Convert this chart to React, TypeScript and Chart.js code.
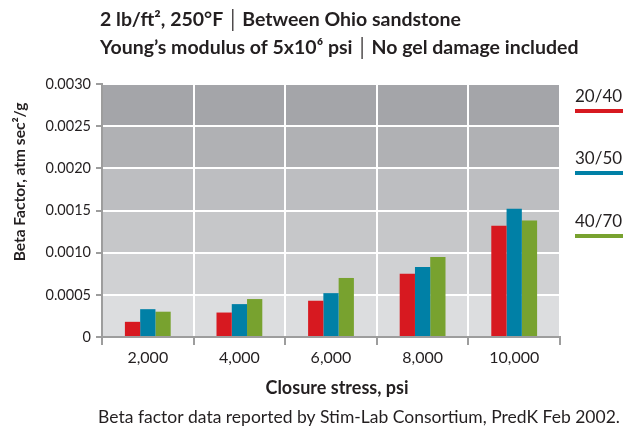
import React, { useEffect, useRef } from 'react';
import { Chart, registerables } from 'chart.js';
Chart.register(...registerables);

const categories = ['2,000', '4,000', '6,000', '8,000', '10,000'];
const series2040 = [0.00018, 0.00029, 0.00043, 0.00075, 0.00132];
const series3050 = [0.00033, 0.00039, 0.00052, 0.00083, 0.00152];
const series4070 = [0.0003, 0.00045, 0.0007, 0.00095, 0.00138];
const seriesNames = ['20/40', '30/50', '40/70'];
const seriesColors = ['#d71920', '#0080a6', '#78a22f'];
const yTicks = [0, 0.0005, 0.001, 0.0015, 0.002, 0.0025, 0.003];
const bandColors = ['#dcdddf', '#d0d1d3', '#c6c7c9', '#bdbec1', '#b0b1b4', '#a4a5a9'];
const titleLine1 = ['2 lb/ft², 250°F', 'Between Ohio sandstone'];
const titleLine2 = ['Young’s modulus of 5x10⁶ psi', 'No gel damage included'];
const xTitle = 'Closure stress, psi';
const yTitle = 'Beta Factor, atm sec²/g';
const footer = 'Beta factor data reported by Stim-Lab Consortium, PredK Feb 2002.';

const FONT = 'Lato';
const TEXT = '#231f20';
const AXIS = '#9d9d9d';

function drawTitleLine(ctx: CanvasRenderingContext2D, parts: string[], x: number, y: number) {
  ctx.textBaseline = 'middle';
  ctx.textAlign = 'left';
  ctx.fillStyle = TEXT;
  ctx.font = `bold 19.5px ${FONT}`;
  ctx.fillText(parts[0], x, y);
  let cx = x + ctx.measureText(parts[0]).width + 9;
  ctx.fillStyle = TEXT;
  ctx.fillRect(cx, y - 11, 1.2, 22);
  cx += 10;
  ctx.fillText(parts[1], cx, y);
}

const decor = {
  id: 'decor',
  beforeDraw(chart: any) {
    const { ctx, chartArea: a, scales } = chart;
    const y = scales.y;
    ctx.save();
    for (let i = 0; i < yTicks.length - 1; i++) {
      const y0 = y.getPixelForValue(yTicks[i]);
      const y1 = y.getPixelForValue(yTicks[i + 1]);
      ctx.fillStyle = bandColors[i];
      ctx.fillRect(a.left, y1, a.right - a.left, y0 - y1);
    }
    ctx.restore();
  },
  afterDraw(chart: any) {
    const { ctx } = chart;
    ctx.save();
    drawTitleLine(ctx, titleLine1, 100, 20);
    drawTitleLine(ctx, titleLine2, 100, 48);

    // legend
    const legendY = [97, 159, 222];
    ctx.font = `17px ${FONT}`;
    ctx.textAlign = 'left';
    ctx.textBaseline = 'middle';
    seriesNames.forEach((n, i) => {
      ctx.fillStyle = TEXT;
      ctx.fillText(n, 575, legendY[i]);
      ctx.fillStyle = seriesColors[i];
      ctx.fillRect(575, legendY[i] + 12, 48, 4);
    });

    // axis titles
    ctx.fillStyle = TEXT;
    ctx.font = `bold 18px ${FONT}`;
    ctx.textAlign = 'center';
    ctx.fillText(xTitle, 337, 388);
    ctx.save();
    ctx.translate(20, 182);
    ctx.rotate(-Math.PI / 2);
    ctx.font = `bold 15.5px ${FONT}`;
    ctx.fillText(yTitle, 0, 0);
    ctx.restore();

    ctx.font = `17.5px ${FONT}`;
    ctx.fillText(footer, 359, 417);
    ctx.restore();
  },
};

export default function App() {
  const ref = useRef<HTMLCanvasElement>(null);
  useEffect(() => {
    const chart = new Chart(ref.current!, {
      type: 'bar',
      data: {
        labels: categories,
        datasets: [series2040, series3050, series4070].map((d, i) => ({
          label: seriesNames[i],
          data: d,
          backgroundColor: seriesColors[i],
          borderWidth: 0,
          categoryPercentage: 0.5,
          barPercentage: 1.0,
        })),
      },
      options: {
        animation: false,
        responsive: false,
        maintainAspectRatio: false,
        layout: { padding: { left: 0, right: 66, top: 84, bottom: 0 } },
        plugins: { legend: { display: false }, title: { display: false }, tooltip: { enabled: false } },
        scales: {
          x: {
            grid: { color: '#ffffff', lineWidth: 2, offset: true, tickColor: AXIS, tickLength: 8 },
            border: { display: true, color: AXIS, width: 2 },
            ticks: { font: { family: FONT, size: 16 }, color: TEXT, padding: 3 },
            afterFit: (s: any) => { s.height = 92; },
          },
          y: {
            min: 0,
            max: 0.003,
            afterBuildTicks: (s: any) => { s.ticks = yTicks.map((v) => ({ value: v })); },
            grid: { color: '#ffffff', lineWidth: 2, tickColor: AXIS, tickLength: 6 },
            border: { display: true, color: AXIS, width: 2 },
            ticks: {
              font: { family: FONT, size: 14.5 },
              color: TEXT,
              padding: 5,
              callback: (v: any) => (v === 0 ? '0' : Number(v).toFixed(4)),
            },
            afterFit: (s: any) => { s.width = 102; },
          },
        },
      },
      plugins: [decor],
    });
    return () => chart.destroy();
  }, []);
  return (
    <div style={{ position: 'fixed', left: 0, top: 0, width: 626, height: 429, background: '#fff' }}>
      <canvas ref={ref} width={626} height={429} style={{ width: 626, height: 429 }} />
    </div>
  );
}
